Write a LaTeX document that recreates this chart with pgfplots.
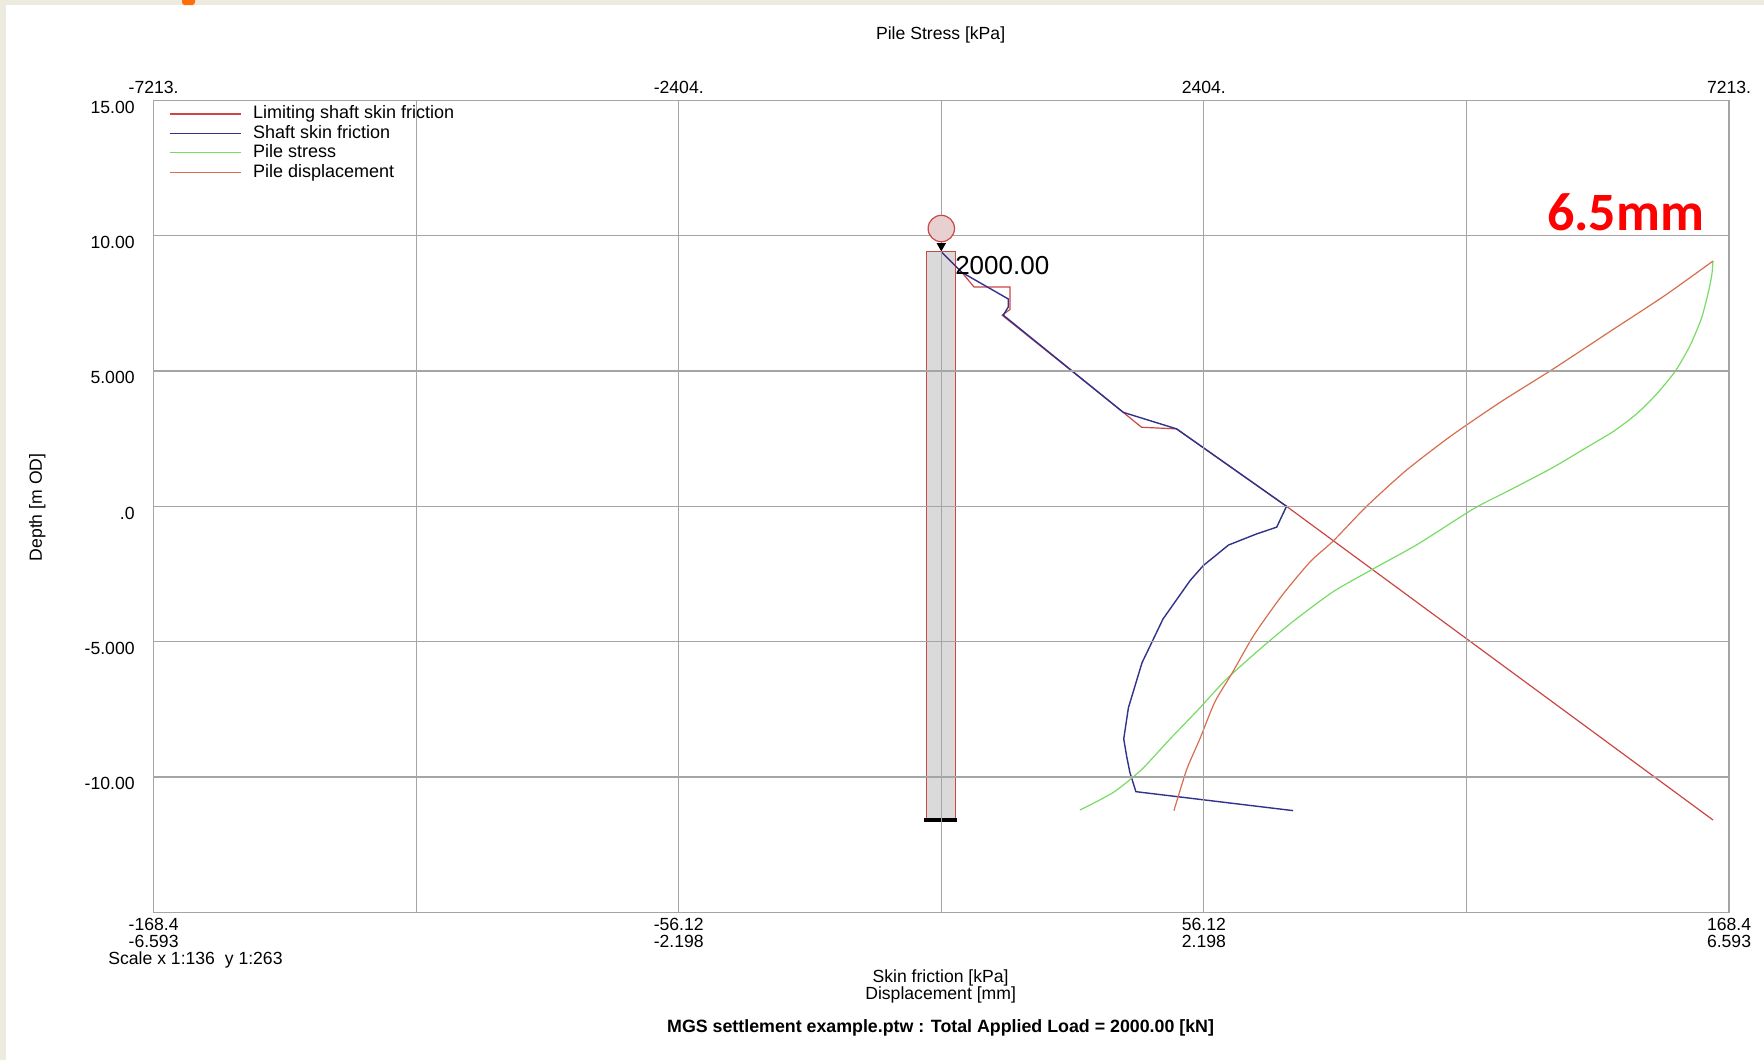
\documentclass[border=0pt]{standalone}
\usepackage{pgfplots}
\pgfplotsset{compat=1.18}
\usepackage{fontspec}
\setmainfont{Liberation Sans}
\newfontfamily\carlito{Carlito}

\definecolor{limcol}{RGB}{205,70,70}
\definecolor{shaftcol}{RGB}{50,50,140}
\definecolor{stresscol}{RGB}{120,220,100}
\definecolor{dispcol}{RGB}{215,110,80}
\definecolor{gridcol}{RGB}{165,165,165}
\definecolor{framecol}{RGB}{237,234,224}
\definecolor{tabcol}{RGB}{255,110,10}
\definecolor{pilefill}{RGB}{218,218,218}
\definecolor{headfill}{RGB}{232,208,208}

\newcommand\lblfont{\fontsize{8.8}{8.4}\selectfont}

\begin{document}
\begin{tikzpicture}
% window background
\fill[framecol] (0,0) rectangle (882pt,-529.9pt);
\fill[white] (2.8pt,-2.5pt) rectangle (882pt,-529.9pt);
\fill[tabcol, rounded corners=1.5pt] (91pt,2pt) rectangle (97.5pt,-2.6pt);

\begin{axis}[
  scale only axis, width=787.7pt, height=406.1pt,
  at={(76.8pt,-456.2pt)}, anchor=south west,
  xmin=-168.4, xmax=168.4, ymin=-15, ymax=15,
  xtick={-168.4,-112.27,-56.13,0,56.13,112.27,168.4},
  xticklabels={{-168.4\\-6.593},{},{-56.12\\-2.198},{},{56.12\\2.198},{},{168.4\\6.593}},
  ytick={-15,-10,-5,0,5,10,15},
  yticklabels={{},{-10.00},{-5.000},{.0},{5.000},{10.00},{15.00}},
  major tick length=0pt,
  grid=major, grid style={gridcol, line width=0.6pt},
  axis line style={gridcol, line width=0.7pt},
  axis on top,
  tick label style={font=\lblfont, inner sep=0pt},
  xticklabel style={align=center, anchor=north, yshift=-2.6pt},
  yticklabel style={anchor=east, xshift=-9.3pt, yshift=-3.4pt},
  legend style={at={(0,1)}, anchor=north west, xshift=7.6pt, yshift=-1.8pt,
    draw=none, fill=none, inner sep=0pt, column sep=5.5pt,
    font=\fontsize{9}{9}\selectfont,
    nodes={inner sep=0.4pt, text height=6.9pt, text depth=2pt}},
  legend cell align=left,
  legend image code/.code={\draw[#1] (0pt,0pt) -- (35.4pt,0pt);},
]

% pile body, head and toe
\addplot[forget plot, draw=limcol, fill=pilefill, line width=0.6pt]
  coordinates {(-3.1,9.4) (3.1,9.4) (3.1,-11.6) (-3.1,-11.6)} --cycle;
\addplot[forget plot, only marks, mark=*, mark size=6.6pt,
  mark options={draw=limcol, fill=headfill, line width=0.6pt}]
  coordinates {(0,10.26)};
\addplot[forget plot, only marks, mark=triangle*, mark size=2.3pt,
  mark options={black, rotate=180}] coordinates {(0,9.62)};
\addplot[forget plot, black, line width=2.1pt]
  coordinates {(-3.6,-11.6) (3.4,-11.6)};

% limiting shaft skin friction [kPa]
\addplot[limcol, line width=0.6pt] coordinates {
  (0,9.4) (4.4,8.64) (7.0,8.10) (14.7,8.10) (14.7,7.27) (13.0,7.06)
  (38.9,3.47) (42.8,2.92) (50.3,2.86) (73.8,0.0) (165.0,-11.59)};
\addlegendentry{Limiting shaft skin friction}

% mobilised shaft skin friction [kPa]
\addplot[shaftcol, line width=0.7pt] coordinates {
  (0,9.4) (4.4,8.64) (14.3,7.66) (14.3,7.36) (13.25,7.06)
  (38.9,3.47) (50.3,2.86) (73.8,0.0) (71.7,-0.77) (67.4,-1.02)
  (61.4,-1.43) (56.0,-2.19) (53.2,-2.74) (47.4,-4.16) (42.9,-5.78)
  (40.0,-7.44) (39.0,-8.59) (39.6,-9.21) (40.3,-9.82) (41.6,-10.54)
  (75.2,-11.24)};
\addlegendentry{Shaft skin friction}

% axial pile stress [kPa]
\addplot[stresscol, line width=0.6pt, smooth, tension=0.4]
  table[x expr=\thisrow{s}*168.4/7213, y=d] {
s     d
1269  -11.22
1578  -10.56
1835  -9.72
2093  -8.60
2350  -7.52
2607  -6.40
2916  -5.28
3225  -4.24
3586  -3.16
3946  -2.33
4358  -1.41
4870  -0.10
5182   0.55
5594   1.42
5903   2.16
6160   2.78
6377   3.45
6562   4.20
6727   5.03
6861   5.98
6964   6.98
7025   7.94
7056   8.56
7066   9.06
};
\addlegendentry{Pile stress}

% pile displacement [mm]
\addplot[dispcol, line width=0.6pt, smooth, tension=0.4]
  table[x expr=\thisrow{u}*168.4/6.593, y=d] {
u      d
1.947  -11.24
2.054  -9.72
2.164  -8.59
2.289  -7.23
2.430  -6.19
2.619  -4.74
2.854  -3.28
3.089  -2.04
3.278  -1.29
3.560   0.00
3.889   1.32
4.266   2.60
4.680   3.85
5.113   5.05
5.584   6.42
6.054   7.78
6.459   9.06
};
\addlegendentry{Pile displacement}

\node[anchor=west, inner sep=0pt, font=\fontsize{13}{13}\selectfont]
  at (axis cs:2.9,8.89) {2000.00};
\end{axis}

% pile stress scale along the top edge
\begin{axis}[
  scale only axis, width=787.7pt, height=406.1pt,
  at={(76.8pt,-456.2pt)}, anchor=south west,
  xmin=-168.4, xmax=168.4, ymin=-15, ymax=15,
  axis x line*=top, x axis line style={-, draw=none},
  hide y axis,
  xtick={-168.4,-112.27,-56.13,0,56.13,112.27,168.4},
  xticklabels={{-7213.},{},{-2404.},{},{2404.},{},{7213.}},
  major tick length=0pt,
  xticklabel style={font=\lblfont, inner sep=0pt, anchor=base, yshift=3.4pt},
]
\end{axis}

% titles and captions
\node[font=\lblfont] at (470.3pt,-17.4pt) {Pile Stress [kPa]};
\node[font=\lblfont, rotate=90] at (18.6pt,-253.7pt) {Depth [m OD]};
\node[font=\lblfont] at (470.3pt,-488.8pt) {Skin friction [kPa]};
\node[font=\lblfont] at (470.3pt,-497.3pt) {Displacement [mm]};
\node[font=\fontsize{8.9}{9}\selectfont\bfseries] at (470.3pt,-514.1pt)
  {MGS settlement example.ptw : Total Applied Load = 2000.00 [kN]};
\node[font=\lblfont, anchor=west, inner sep=0pt] at (54pt,-479.8pt)
  {Scale x 1:136\ \ y 1:263};
\node[font=\carlito\bfseries\fontsize{27}{27}\selectfont, text=red]
  at (812.8pt,-106.3pt) {6.5mm};

\pgfresetboundingbox
\useasboundingbox (0,0) rectangle (882pt,-529.9pt);
\end{tikzpicture}
\end{document}
